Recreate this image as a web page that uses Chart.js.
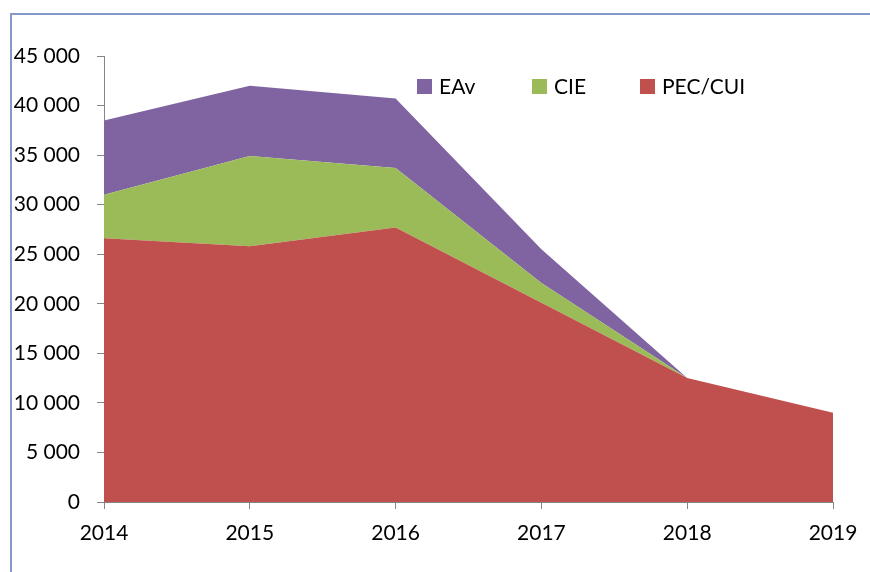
<html>
<head>
  <script src="https://cdn.jsdelivr.net/npm/chart.js@4.4.1/dist/chart.umd.min.js"></script>
  <style>
    body { margin: 0; background: #fff; }
    #frame { position: absolute; left: 10px; top: 13px; width: 900px; height: 600px;
             border-left: 2px solid #8598c9; border-top: 2px solid #8598c9; }
    #wrap { position: absolute; left: 0; top: 0; width: 870px; height: 572px; }
  </style>
  <script>
  // values
  const years = ['2014', '2015', '2016', '2017', '2018', '2019'];
  const pecCui = [26600, 25800, 27700, 20100, 12500, 9000];
  const cie = [4400, 9100, 6000, 2000, 0, 0];
  const eav = [7500, 7100, 7000, 3400, 0, 0];
  const yTicks = { min: 0, max: 45000, step: 5000 };

  let fmt = v => String(v).replace(/\B(?=(\d{3})+(?!\d))/g, ' ');

  // legend drawn inside the plot, like the original
  let insideLegend = {
    id: 'insideLegend',
    afterDraw(chart) {
      const ctx = chart.ctx;
      const xs = [417, 532, 640];
      const order = [2, 1, 0];
      ctx.save();
      ctx.font = '21px Lato';
      ctx.textBaseline = 'middle';
      order.forEach((i, k) => {
        const ds = chart.data.datasets[i];
        ctx.fillStyle = ds.backgroundColor;
        ctx.fillRect(xs[k], 79, 15, 15);
        ctx.fillStyle = '#000';
        ctx.fillText(ds.label, xs[k] + 22, 87);
      });
      ctx.restore();
    }
  };

  window.onload = () => {
    const axisColor = '#868686';
    new Chart(document.getElementById('myChart'), {
      type: 'line',
      data: {
        labels: years,
        datasets: [{
          label: 'PEC/CUI',
          data: pecCui,
          backgroundColor: '#C0504D',
          fill: 'origin'
        }, {
          label: 'CIE',
          data: cie,
          backgroundColor: '#9BBB59',
          fill: '-1'
        }, {
          label: 'EAv',
          data: eav,
          backgroundColor: '#8064A2',
          fill: '-1'
        }]
      },
      options: {
        responsive: false,
        animation: false,
        elements: { point: { radius: 0 }, line: { borderWidth: 0, tension: 0 } },
        layout: { padding: { left: 10, right: 37, top: 56, bottom: 0 } },
        plugins: { legend: { display: false }, tooltip: { enabled: false } },
        scales: {
          x: {
            offset: false,
            grid: { drawOnChartArea: false, drawTicks: true, tickLength: 7, color: axisColor },
            border: { color: axisColor, width: 1 },
            ticks: { color: '#000', font: { family: 'Lato', size: 21 }, padding: 12, maxRotation: 0 },
            afterFit: s => { s.height = 70; }
          },
          y: {
            stacked: true,
            min: yTicks.min,
            max: yTicks.max,
            grid: { drawOnChartArea: false, drawTicks: true, tickLength: 7, color: axisColor },
            border: { color: axisColor, width: 1 },
            ticks: { stepSize: yTicks.step, color: '#000', font: { family: 'Lato', size: 21 }, padding: 17, callback: v => fmt(v) },
            afterFit: s => { s.width = 94; }
          }
        }
      },
      plugins: [insideLegend]
    });
  };
  </script>
</head>
<body>
  <div id="frame"></div>
  <div id="wrap"><canvas id="myChart" width="870" height="572"></canvas></div>
</body>
</html>
